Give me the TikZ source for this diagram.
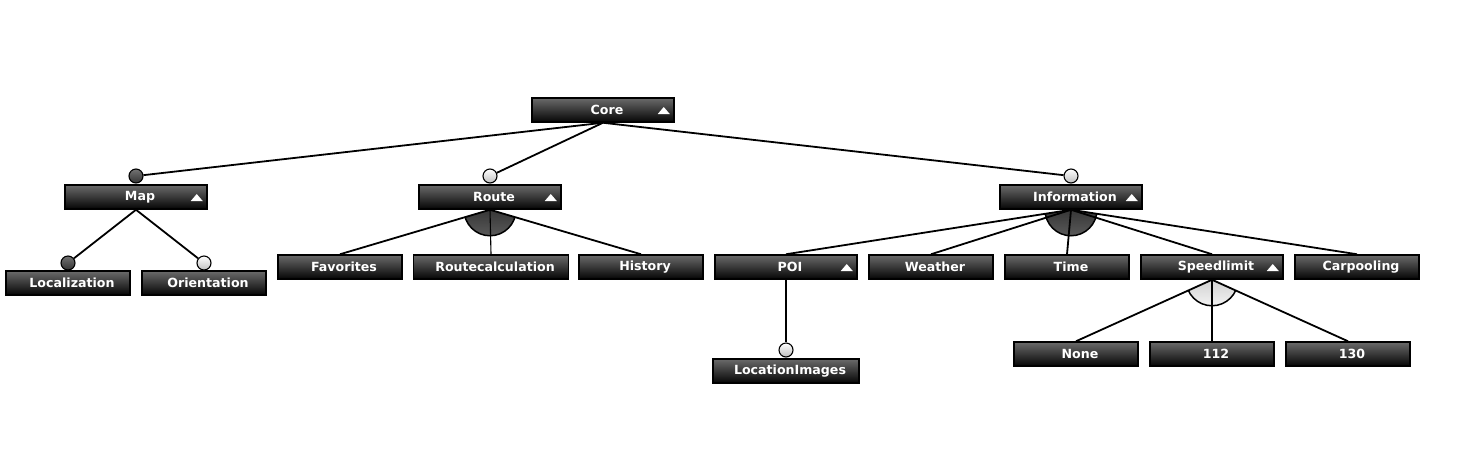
\documentclass[tikz,border=0pt]{standalone}
\usepackage{fontspec}
\setmainfont{DejaVu Sans}
\usetikzlibrary{positioning,calc,backgrounds}
\definecolor{featTop}{HTML}{6A6A6A}
\definecolor{featBot}{HTML}{050505}

% small white triangle at the right end of a collapsible feature
\newcommand\collapsible[1]{\fill[white] ($(#1.east)+(-17,4)$) -- ++(12,0) -- ++(-6,-7) -- cycle;}
% group sector below a parent, between its first and last child
\newcommand\groupsector[4]{%
  \begin{scope}
    \clip (#2.south) -- ($(#2.south)!3!(#3.north)$) -- ($(#2.south)!3!(#4.north)$) -- cycle;
    \draw[#1, line width=1.5pt] (#2.south) circle[radius=26];
  \end{scope}}

\begin{document}
\begin{tikzpicture}[x=1pt, y=-1pt,
        feat/.style={draw=black, line width=1.5pt, top color=featTop, bottom color=featBot,
            text=white, font=\bfseries\fontsize{12.6}{14}\selectfont, minimum height=24,
            minimum width=124, inner sep=0pt, execute at begin node=\hspace*{8pt}},
        wide/.style={feat, minimum width=142},
        mand/.style={circle, draw=black, line width=1.1pt, minimum size=14, inner sep=0pt,
            top color=black!55, bottom color=black!80},
        opt/.style={mand, top color=white, bottom color=black!25},
        orgrp/.style={top color=black!92, bottom color=black!65, draw=black},
        altgrp/.style={top color=black!30, bottom color=black!5, draw=black},
        link/.style={line width=1.8pt, draw=black}
    ]
        \useasboundingbox (0,0) rectangle (1463,448);

        % --- top levels ---
        \node[wide] (core) at (603,110) {Core};
        \node[wide] (map) at (136,197) {Map};
        \node[wide] (route) at (490,197) {Route};
        \node[wide] (info) at (1071,197) {Information};
        \node[mand] (mapc) at (136,176) {};
        \node[opt] (routec) at (490,176) {};
        \node[opt] (infoc) at (1071,176) {};

        % --- Map children ---
        \node[feat] (loc) at (68,283) {Localization};
        \node[feat] (orient) at (204,283) {Orientation};
        \node[mand] (locc) at (68,263) {};
        \node[opt] (orientc) at (204,263) {};

        % --- Route children ---
        \node[feat] (fav) at (340,267) {Favorites};
        \node[feat, minimum width=155] (rcalc) at (491,267) {Routecalculation};
        \node[feat] (hist) at (641,267) {History};

        % --- Information children ---
        \node[wide] (poi) at (786,267) {POI};
        \node[feat] (weather) at (931,267) {Weather};
        \node[feat] (time) at (1067,267) {Time};
        \node[wide] (speed) at (1212,267) {Speedlimit};
        \node[feat] (carpool) at (1357,267) {Carpooling};

        % --- lowest level ---
        \node[feat, minimum width=146] (locimg) at (786,371) {LocationImages};
        \node[opt] (locimgc) at (786,350) {};
        \node[feat] (none) at (1076,354) {None};
        \node[feat] (s112) at (1212,354) {112};
        \node[feat] (s130) at (1348,354) {130};

        \foreach \f in {core,map,route,info,poi,speed}
            {\collapsible{\f}}

        \begin{scope}[on background layer]
            \fill[white] (0,0) rectangle (1463,448);
            \groupsector{orgrp}{route}{fav}{hist}
            \groupsector{orgrp}{info}{poi}{carpool}
            \groupsector{altgrp}{speed}{none}{s130}

            \foreach \c in {mapc,routec,infoc}
                {\draw[link] (core.south) -- (\c);}
            \draw[link] (map.south) -- (locc);
            \draw[link] (map.south) -- (orientc);
            \draw[link, line width=1.1pt] (poi.south) -- (locimgc);
            \foreach \c in {fav,hist}
                {\draw[link] (route.south) -- (\c.north);}
            \draw[link, line width=1.1pt] (route.south) -- (rcalc.north);
            \foreach \c in {poi,weather,time,speed,carpool}
                {\draw[link] (info.south) -- (\c.north);}
            \foreach \c in {none,s130}
                {\draw[link] (speed.south) -- (\c.north);}
            \draw[link, line width=1.1pt] (speed.south) -- (s112.north);
        \end{scope}
    \end{tikzpicture}
\end{document}
